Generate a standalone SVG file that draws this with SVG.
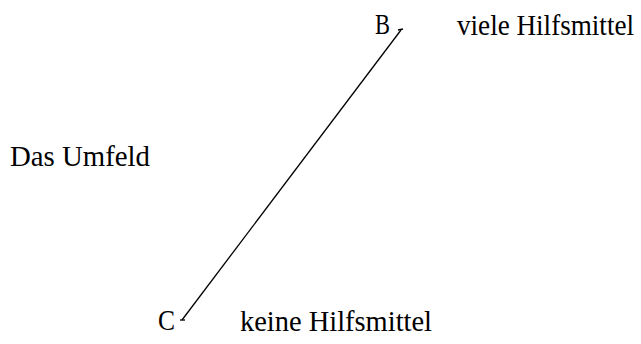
<svg xmlns="http://www.w3.org/2000/svg" width="641" height="344" viewBox="0 0 641 344">
<style>
text{font-family:"Liberation Serif","Times New Roman",serif;font-size:30px;fill:#000}
.ln{stroke:#000;stroke-width:1.3;fill:none}
</style>
<rect width="641" height="344" fill="#fff"/>
<g id="connectors">
<path class="ln" d="M401,30 L182,320"/>
<path class="ln" d="M398,30 L403,29"/>
<path class="ln" d="M180,320 L185,320"/>
</g>
<g id="nodeB"><text x="375" y="34" textLength="15" lengthAdjust="spacingAndGlyphs">B</text></g>
<g id="labelViele" transform="translate(457,35) scale(1,1.11)"><text x="0" y="0" style="font-size:27px" textLength="177" lengthAdjust="spacingAndGlyphs">viele Hilfsmittel</text></g>
<g id="labelUmfeld"><text x="10" y="166" textLength="140" lengthAdjust="spacingAndGlyphs">Das Umfeld</text></g>
<g id="nodeC"><text x="158" y="330" textLength="17" lengthAdjust="spacingAndGlyphs">C</text></g>
<g id="labelKeine"><text x="240" y="331" textLength="192" lengthAdjust="spacingAndGlyphs">keine Hilfsmittel</text></g>
</svg>
